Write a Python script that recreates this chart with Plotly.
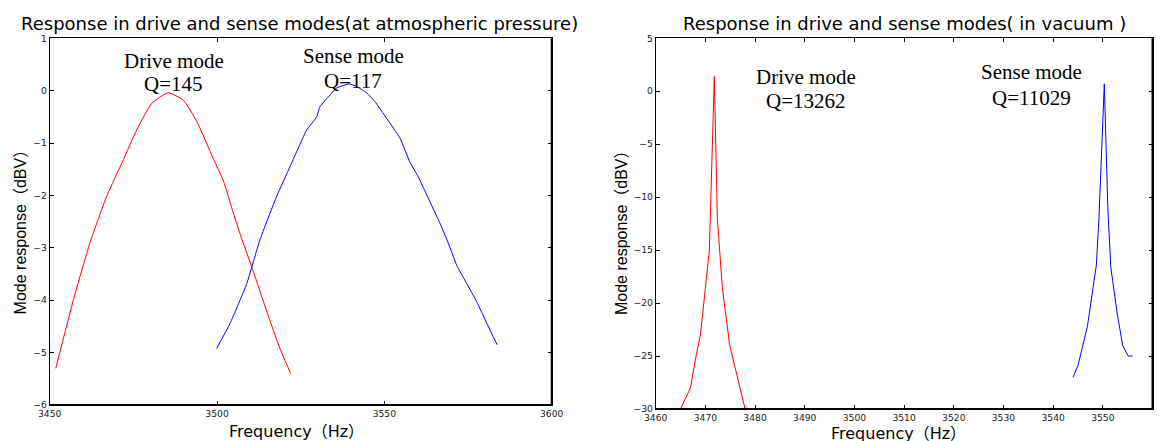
import plotly.graph_objects as go

W, H = 1164, 441

# ---- Data: atmospheric pressure ----
atm_drive_f = [3451.8, 3457.1, 3462.0, 3467.0, 3472.0, 3476.0, 3480.5, 3485.4, 3489.9,
               3493.9, 3498.9, 3501.9, 3504.9, 3507.5, 3510.3, 3514.8, 3518.6, 3522.0]
atm_drive_v = [-5.30, -3.99, -2.91, -2.02, -1.32, -0.75, -0.24, -0.04, -0.18,
               -0.58, -1.30, -1.72, -2.34, -2.85, -3.35, -4.20, -4.89, -5.40]
atm_sense_f = [3499.9, 3503.9, 3508.9, 3512.8, 3517.8, 3521.8, 3526.8, 3529.8, 3530.7,
               3532.8, 3535.7, 3539.5, 3541.7, 3544.7, 3547.2, 3550.7, 3554.7, 3557.6,
               3560.1, 3563.1, 3566.6, 3569.1, 3571.6, 3574.6, 3577.6, 3580.6, 3583.7]
atm_sense_v = [-4.92, -4.44, -3.68, -2.85, -2.02, -1.45, -0.75, -0.50, -0.31,
               -0.15, 0.05, 0.13, 0.08, -0.04, -0.21, -0.53, -0.91, -1.36,
               -1.64, -2.05, -2.53, -2.91, -3.33, -3.68, -4.03, -4.44, -4.85]

# ---- Data: vacuum ----
vac_drive_f = [3465, 3467, 3468, 3469, 3470.2, 3470.8, 3471.8, 3472.4, 3473.4, 3474.9, 3478]
vac_drive_v = [-30, -28, -25.3, -23, -17.7, -15, 1.4, -11.9, -18.5, -24, -30]
vac_sense_f = [3544, 3545, 3546.9, 3548.7, 3549.2, 3550.3, 3551.0, 3551.6, 3552.9, 3554, 3555.1, 3556]
vac_sense_v = [-27, -25.9, -22.2, -16.4, -12.2, 0.7, -10.9, -16.6, -21.0, -24.0, -25.0, -25.0]

titles = ["Response in drive and sense modes(at atmospheric pressure)",
          "Response in drive and sense modes( in vacuum )"]
ytitle = "Mode response（dBV）"
xtitle = "Frequency（Hz）"

SANS = "DejaVu Sans, Noto Sans CJK SC, sans-serif"
SANS2 = "Liberation Sans, Arial, Noto Sans CJK SC, sans-serif"
SERIF = "Liberation Serif, Times New Roman, serif"

fig = go.Figure()
fig.add_trace(go.Scatter(x=atm_drive_f, y=atm_drive_v, mode="lines",
                         line=dict(color="#ff0000", width=1, shape="spline", smoothing=0.5),
                         xaxis="x", yaxis="y"))
fig.add_trace(go.Scatter(x=atm_sense_f, y=atm_sense_v, mode="lines",
                         line=dict(color="#0000ff", width=1, shape="spline", smoothing=0.4),
                         xaxis="x", yaxis="y"))
fig.add_trace(go.Scatter(x=vac_drive_f, y=vac_drive_v, mode="lines",
                         line=dict(color="#ff0000", width=1), xaxis="x2", yaxis="y2"))
fig.add_trace(go.Scatter(x=vac_sense_f, y=vac_sense_v, mode="lines",
                         line=dict(color="#0000ff", width=1), xaxis="x2", yaxis="y2"))

def px_x(p):
    return p / W

def px_y(p):
    return (H - p) / H

axis_common = dict(showgrid=False, zeroline=False, showline=True, linecolor="black",
                   linewidth=1, mirror="ticks", ticks="inside", ticklen=4, automargin=False,
                   tickcolor="black", tickfont=dict(family=SANS, size=9.2, color="#222"))

fig.update_layout(
    width=W, height=H, margin=dict(l=0, r=0, t=0, b=0, pad=0, autoexpand=False),
    paper_bgcolor="white", plot_bgcolor="white", showlegend=False,
    xaxis=dict(domain=[px_x(49.7), px_x(551.7)], range=[3450, 3600],
               tickvals=[3450, 3500, 3550, 3600], anchor="y", **axis_common),
    yaxis=dict(domain=[px_y(405), px_y(38.3)], range=[-6, 1], dtick=1, tick0=0,
               anchor="x", **axis_common),
    xaxis2=dict(domain=[px_x(655.7), px_x(1152.5)], range=[3460, 3560], dtick=10, tick0=3460,
                anchor="y2", **axis_common),
    yaxis2=dict(domain=[px_y(409), px_y(38.3)], range=[-30, 5], dtick=5, tick0=0,
                anchor="x2", **axis_common),
)

ann = []
# titles
for t, cx in [(titles[0], 299.5), (titles[1], 904)]:
    ann.append(dict(text=t, x=px_x(cx), y=px_y(23), xref="paper", yref="paper",
                    xanchor="center", yanchor="middle",
                    showarrow=False, font=dict(family=SANS, size=18, color="black")))
# axis titles
for cx, cy in [(20.4, 228), (621, 229)]:
    ann.append(dict(text=ytitle, x=px_x(cx), y=px_y(cy), xref="paper", yref="paper",
                    xanchor="center", yanchor="middle", textangle=-90, showarrow=False,
                    font=dict(family=SANS2, size=16, color="black")))
for cx, cy in [(296, 431.7), (898, 433.5)]:
    ann.append(dict(text=xtitle, x=px_x(cx), y=px_y(cy), xref="paper", yref="paper",
                    xanchor="center", yanchor="middle", showarrow=False,
                    font=dict(family=SANS, size=16, color="black")))
# mode labels
labels = [("x", "y", 3487.0, 0.572, "Drive mode"), ("x", "y", 3487.0, 0.122, "Q=145"),
          ("x", "y", 3540.8, 0.668, "Sense mode"), ("x", "y", 3540.6, 0.185, "Q=117"),
          ("x2", "y2", 3490.3, 1.37, "Drive mode"), ("x2", "y2", 3490.3, -0.91, "Q=13262"),
          ("x2", "y2", 3535.6, 1.79, "Sense mode"), ("x2", "y2", 3535.6, -0.60, "Q=11029")]
for xr, yr, x, y, t in labels:
    ann.append(dict(text=t, x=x, y=y, xref=xr, yref=yr, showarrow=False,
                    xanchor="center", yanchor="middle",
                    font=dict(family=SERIF, size=21, color="black")))
fig.update_layout(annotations=ann)

# thicker bottom/right frame edges, as in the reference
shapes = []
for xd, yd in [("x domain", "y domain"), ("x2 domain", "y2 domain")]:
    shapes.append(dict(type="line", xref=xd, yref=yd, x0=0, x1=1, y0=0, y1=0,
                       line=dict(color="black", width=2)))
    shapes.append(dict(type="line", xref=xd, yref=yd, x0=1, x1=1, y0=0, y1=1,
                       line=dict(color="black", width=2)))
fig.update_layout(shapes=shapes)

fig.write_html("out.html", config={"displayModeBar": False},
               post_script="document.body.style.margin='0';")
